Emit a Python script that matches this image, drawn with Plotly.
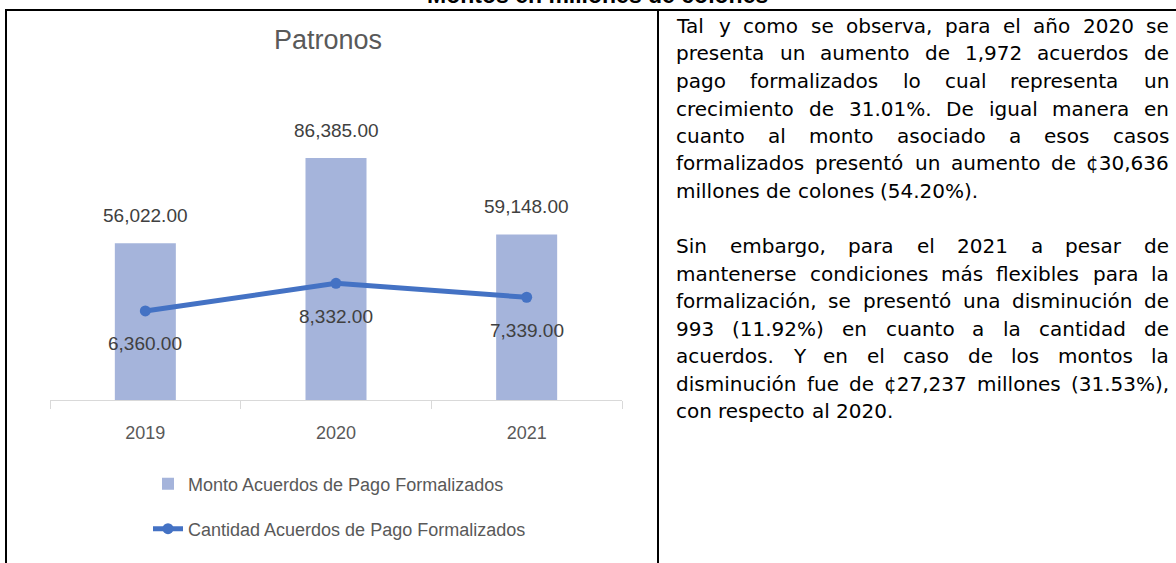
import plotly.graph_objects as go

W, H = 1176, 563

# ---------------- data ----------------
years = ["2019", "2020", "2021"]
monto = [56022.00, 86385.00, 59148.00]          # Monto Acuerdos de Pago Formalizados
cantidad = [6360.00, 8332.00, 7339.00]          # Cantidad Acuerdos de Pago Formalizados
bar_name = "Monto Acuerdos de Pago Formalizados"
line_name = "Cantidad Acuerdos de Pago Formalizados"
chart_title = "Patronos"
doc_title = "Montos en millones de colones"

body_lines = [
    ("Tal y como se observa, para el año 2020 se", True),
    ("presenta un aumento de 1,972 acuerdos de", True),
    ("pago formalizados lo cual representa un", True),
    ("crecimiento de 31.01%. De igual manera en", True),
    ("cuanto al monto asociado a esos casos", True),
    ("formalizados presentó un aumento de ¢30,636", True),
    ("millones de colones (54.20%).", False),
    ("", False),
    ("Sin embargo, para el 2021 a pesar de", True),
    ("mantenerse condiciones más flexibles para la", True),
    ("formalización, se presentó una disminución de", True),
    ("993 (11.92%) en cuanto a la cantidad de", True),
    ("acuerdos. Y en el caso de los montos la", True),
    ("disminución fue de ¢27,237 millones (31.53%),", True),
    ("con respecto al 2020.", False),
]

# ---------------- helpers ----------------
def px(x):
    return x / W

def py(y):
    return 1 - y / H

# approximate DejaVu Sans advance widths (em)
DV = {
    ' ': .318, 'a': .613, 'b': .635, 'c': .550, 'd': .635, 'e': .615, 'f': .352,
    'g': .635, 'h': .634, 'i': .278, 'j': .278, 'k': .579, 'l': .278, 'm': .974,
    'n': .634, 'o': .612, 'p': .635, 'q': .635, 'r': .411, 's': .521, 't': .392,
    'u': .634, 'v': .592, 'w': .818, 'x': .592, 'y': .592, 'z': .525,
    ',': .318, '.': .318, '(': .390, ')': .390, '%': .950, '¢': .636,
    'T': .611, 'D': .770, 'S': .635, 'Y': .611,
}
for d in "0123456789":
    DV[d] = .636
for a, b in zip("áéíóúñ", "aeioun"):
    DV[a] = DV[b]

def tw(s, size):
    return sum(DV.get(c, .6) for c in s) * size

BODY_FONT = 20
LEFT, RIGHT = 676, 1169
BASE0, LSTEP = 33, 27.5

annotations = []
for i, (line, just) in enumerate(body_lines):
    if not line:
        continue
    words = line.split(" ")
    widths = [tw(w_, BODY_FONT) for w_ in words]
    if just and len(words) > 1:
        gap = (RIGHT - LEFT - sum(widths)) / (len(words) - 1)
    else:
        gap = DV[' '] * BODY_FONT
    x = LEFT
    yc = BASE0 + i * LSTEP - 7
    for w_, wd in zip(words, widths):
        annotations.append(dict(
            text=w_, x=px(x), y=py(yc), xref="paper", yref="paper",
            xanchor="left", yanchor="middle", showarrow=False,
            borderwidth=0, borderpad=0,
            font=dict(family="DejaVu Sans", size=BODY_FONT, color="#000000"),
        ))
        x += wd + gap

# document title (cut at top)
annotations.append(dict(
    text=doc_title, x=px(597), y=py(-5), xref="paper", yref="paper",
    xanchor="center", yanchor="middle", showarrow=False, borderwidth=0, borderpad=0,
    font=dict(family="Liberation Sans", size=23, color="#000000", weight="bold"),
))

# chart title
annotations.append(dict(
    text=chart_title, x=px(328), y=py(40), xref="paper", yref="paper",
    xanchor="center", yanchor="middle", showarrow=False, borderwidth=0, borderpad=0,
    font=dict(family="Liberation Sans", size=27, color="#595959"),
))

# data labels (category axis positions by index)
for idx, v in enumerate(monto):
    annotations.append(dict(
        text=f"{v:,.2f}", x=idx, y=v, xref="x", yref="y", yshift=28,
        xanchor="center", yanchor="middle", showarrow=False, borderwidth=0, borderpad=0,
        font=dict(family="Liberation Sans", size=19, color="#404040"),
    ))
for idx, v in enumerate(cantidad):
    annotations.append(dict(
        text=f"{v:,.2f}", x=idx, y=v, xref="x", yref="y2", yshift=-33,
        xanchor="center", yanchor="middle", showarrow=False, borderwidth=0, borderpad=0,
        font=dict(family="Liberation Sans", size=19, color="#404040"),
    ))

fig = go.Figure()
fig.add_trace(go.Bar(
    x=years, y=monto, name=bar_name, marker=dict(color="#A5B4DB", line=dict(width=0)),
    width=0.32, legend="legend", yaxis="y",
))
fig.add_trace(go.Scatter(
    x=years, y=cantidad, name=line_name, mode="lines+markers",
    line=dict(color="#4472C4", width=5), marker=dict(size=11, color="#4472C4"),
    legend="legend2", yaxis="y2",
))

shapes = [
    dict(type="line", xref="paper", yref="paper", x0=px(5), x1=px(1176), y0=py(10), y1=py(10),
         line=dict(color="#000000", width=2)),
    dict(type="line", xref="paper", yref="paper", x0=px(6), x1=px(6), y0=py(10), y1=py(563),
         line=dict(color="#000000", width=2)),
    dict(type="line", xref="paper", yref="paper", x0=px(658), x1=px(658), y0=py(10), y1=py(563),
         line=dict(color="#000000", width=2)),
]

legend_font = dict(family="Liberation Sans", size=18, color="#595959")
fig.update_layout(
    width=W, height=H, autosize=False,
    margin=dict(l=0, r=0, t=0, b=0),
    paper_bgcolor="white", plot_bgcolor="white",
    xaxis=dict(domain=[px(50), px(622)], type="category", categoryorder="array",
               categoryarray=years, range=[-0.5, 2.5], autorange=False,
               showline=True, linecolor="#D9D9D9", linewidth=1,
               ticks="outside", tickson="boundaries", ticklen=8, tickcolor="#D9D9D9",
               tickangle=0, showgrid=False, zeroline=False, ticklabelstandoff=16,
               tickfont=dict(family="Liberation Sans", size=18, color="#595959")),
    yaxis=dict(domain=[py(400), py(120)], range=[0, 100000], autorange=False, visible=False),
    yaxis2=dict(domain=[py(400), py(120)], range=[0, 20000], autorange=False,
                overlaying="y", visible=False),
    legend=dict(x=px(148), y=py(484), xanchor="left", yanchor="middle",
                font=legend_font, bgcolor="rgba(0,0,0,0)", borderwidth=0),
    legend2=dict(x=px(148), y=py(529), xanchor="left", yanchor="middle",
                 font=legend_font, bgcolor="rgba(0,0,0,0)", borderwidth=0),
    annotations=annotations,
    shapes=shapes,
    showlegend=True,
)

fig.write_html("out.html", config={"displayModeBar": False},
               post_script="document.body.style.margin='0px';")
